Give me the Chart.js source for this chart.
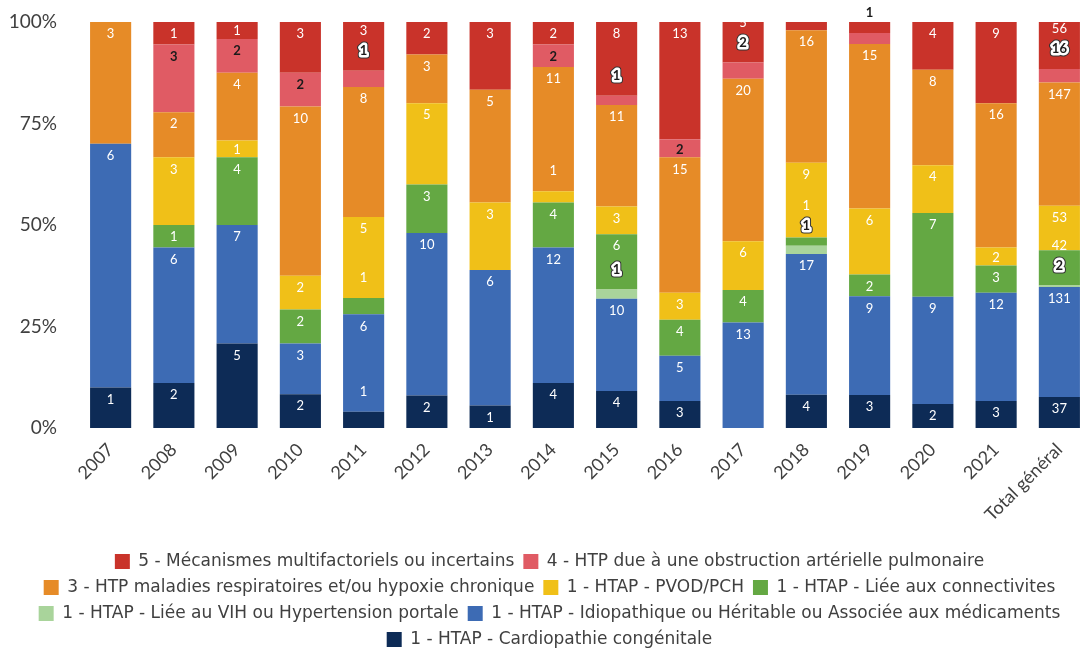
<!DOCTYPE html>
<html>
<head>
<meta charset="utf-8">
<script src="https://cdn.jsdelivr.net/npm/chart.js@4.4.1/dist/chart.umd.min.js"></script>
<style>
    html, body { margin: 0; padding: 0; background: #ffffff; }
    #wrap { width: 1091px; height: 650px; position: relative; }
</style>
</head>
<body>
<div id="wrap"><canvas id="chart"></canvas></div>
<script>
// Categories (x axis)
const categories = ['2007', '2008', '2009', '2010', '2011', '2012', '2013', '2014', '2015',
    '2016', '2017', '2018', '2019', '2020', '2021', 'Total général'];

// Counts per group, bottom of the stack first
const cardiopathie = [1, 2, 5, 2, 1, 2, 1, 4, 4, 3, 0, 4, 3, 2, 3, 37];
const idiopathique = [6, 6, 7, 3, 6, 10, 6, 12, 10, 5, 13, 17, 9, 9, 12, 131];
const vihPortale   = [0, 0, 0, 0, 0, 0, 0, 0, 1, 0, 0, 1, 0, 0, 0, 2];
const connectivites = [0, 1, 4, 2, 1, 3, 0, 4, 6, 4, 4, 1, 2, 7, 3, 42];
const pvodPch      = [0, 3, 1, 2, 5, 5, 3, 1, 3, 3, 6, 9, 6, 4, 2, 53];
const respiratoire = [3, 2, 4, 10, 8, 3, 5, 11, 11, 15, 20, 16, 15, 8, 16, 147];
const obstruction  = [0, 3, 2, 2, 1, 0, 0, 2, 1, 2, 2, 0, 1, 0, 0, 16];
const multifacto   = [0, 1, 1, 3, 3, 2, 3, 2, 8, 13, 5, 1, 1, 4, 9, 56];

// Y axis ticks
const yTicks = [0, 25, 50, 75, 100];

const series = [
    { label: '1 - HTAP - Cardiopathie congénitale', counts: cardiopathie, color: '#0d2b56', text: '#ffffff' },
    { label: '1 - HTAP - Idiopathique ou Héritable ou Associée aux médicaments', counts: idiopathique, color: '#3d6bb4', text: '#ffffff' },
    { label: '1 - HTAP - Liée au VIH ou Hypertension portale', counts: vihPortale, color: '#a9d49b', text: '#1a1a1a' },
    { label: '1 - HTAP - Liée aux connectivites', counts: connectivites, color: '#64a843', text: '#ffffff' },
    { label: '1 - HTAP - PVOD/PCH', counts: pvodPch, color: '#f0c018', text: '#ffffff' },
    { label: '3 - HTP maladies respiratoires et/ou hypoxie chronique', counts: respiratoire, color: '#e68b27', text: '#ffffff' },
    { label: '4 - HTP due à une obstruction artérielle pulmonaire', counts: obstruction, color: '#e05b64', text: '#1a1a1a' },
    { label: '5 - Mécanismes multifactoriels ou incertains', counts: multifacto, color: '#c9332a', text: '#ffffff' }
];

// column totals, used to turn counts into shares of 100%
const totals = categories.map((c, i) => series.reduce((s, d) => s + d.counts[i], 0));

const FONT = 'Lato, "Open Sans", sans-serif';
const LEGEND_FONT = '"DejaVu Sans", "Open Sans", sans-serif';

// Draws the count labels near the top of each segment, pushing labels
// of thin segments up above them like the original sheet does
const countLabels = {
    id: 'countLabels',
    afterDatasetsDraw(chart) {
        const ctx = chart.ctx;
        const area = chart.chartArea;
        const plotH = area.bottom - area.top;
        ctx.save();
        ctx.textAlign = 'center';
        ctx.textBaseline = 'middle';
        ctx.lineJoin = 'round';
        categories.forEach((c, i) => {
            let below = Infinity;
            chart.data.datasets.forEach((ds, d) => {
                const n = series[d].counts[i];
                if (!n) return;
                const bar = chart.getDatasetMeta(d).data[i];
                const h = bar.base - bar.y;
                const thin = h / plotH < 0.0408;
                let y = thin ? bar.y - 20 : bar.y + 12;
                y = Math.min(y, below - 20);
                below = y;
                if (y < 8) return;
                const txt = String(n);
                const dark = series[d].text !== '#ffffff';
                ctx.font = (dark ? 'bold ' : '') + '13px ' + FONT;
                // thin dark labels get a white halo, unless they sit above the bar
                if (thin && dark && y > area.top + 4) {
                    ctx.strokeStyle = '#333333';
                    ctx.lineWidth = 7;
                    ctx.strokeText(txt, bar.x, y);
                    ctx.strokeStyle = '#ffffff';
                    ctx.lineWidth = 5;
                    ctx.strokeText(txt, bar.x, y);
                }
                ctx.fillStyle = series[d].text;
                ctx.fillText(txt, bar.x, y);
            });
        });
        ctx.restore();
    }
};

const ctx = document.getElementById('chart').getContext('2d');
const chart = new Chart(ctx, {
    type: 'bar',
    data: {
        labels: categories,
        datasets: series.map(s => ({
            label: s.label,
            data: s.counts.map((v, i) => v / totals[i] * 100),
            backgroundColor: s.color,
            borderWidth: 0,
            barPercentage: 0.65,
            categoryPercentage: 1
        }))
    },
    options: {
        responsive: true,
        maintainAspectRatio: false,
        animation: false,
        layout: {
            padding: { top: 0, left: 8, right: 0, bottom: -8 }
        },
        plugins: {
            tooltip: { enabled: false },
            legend: {
                position: 'bottom',
                reverse: true,
                labels: {
                    boxWidth: 15,
                    boxHeight: 15,
                    padding: 9,
                    color: '#404040',
                    font: { family: LEGEND_FONT, size: 17 }
                }
            }
        },
        scales: {
            x: {
                stacked: true,
                grid: { display: false, drawTicks: false },
                border: { display: false },
                afterFit: function(scale) {
                    scale.height = 116;
                    scale.paddingLeft = 0;
                },
                ticks: {
                    color: '#404040',
                    font: { family: FONT, size: 18 },
                    maxRotation: 45,
                    minRotation: 45,
                    padding: 11
                }
            },
            y: {
                stacked: true,
                min: 0,
                max: 100,
                grid: { display: false, drawTicks: false },
                border: { display: false },
                afterBuildTicks: function(axis) {
                    axis.ticks = yTicks.map(v => ({ value: v }));
                },
                afterFit: function(scale) {
                    scale.width = 71;
                    scale.paddingTop = 22;
                },
                ticks: {
                    color: '#404040',
                    font: { family: FONT, size: 19 },
                    padding: 22,
                    callback: function(value) {
                        return value + '%';
                    }
                }
            }
        }
    },
    plugins: [countLabels]
});
</script>
</body>
</html>
